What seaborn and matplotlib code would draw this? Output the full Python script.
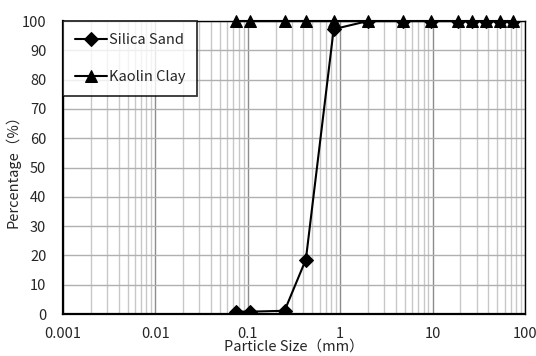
import numpy as np
import pandas as pd
import matplotlib
matplotlib.use("Agg")
import matplotlib.pyplot as plt
import seaborn as sns
from matplotlib.ticker import LogLocator, FixedLocator, FixedFormatter, NullFormatter

sieve_mm = [0.075, 0.106, 0.25, 0.425, 0.85, 2, 4.75, 9.5, 19, 26.5, 37.5, 53, 75]
silica_pct = [0.8, 0.8, 1.1, 18.6, 97.2, 100, 100, 100, 100, 100, 100, 100, 100]
kaolin_pct = [100, 100, 100, 100, 100, 100, 100, 100, 100, 100, 100, 100, 100]
x_ticks = [0.001, 0.01, 0.1, 1, 10, 100]
x_tick_labels = ["0.001", "0.01", "0.1", "1", "10", "100"]
y_ticks = [0, 10, 20, 30, 40, 50, 60, 70, 80, 90, 100]

sns.set_style("white")
plt.rcParams['font.family'] = ['Noto Sans CJK JP', 'DejaVu Sans']

FS = 10.5

fig = plt.figure(figsize=(5.36, 3.56), dpi=100)
ax = fig.add_axes([63/536, 1 - 314/356, (525-63)/536, (314-21)/356])

df_s = pd.DataFrame({"x": sieve_mm, "y": silica_pct})
df_k = pd.DataFrame({"x": sieve_mm, "y": kaolin_pct})

sns.lineplot(data=df_s, x="x", y="y", ax=ax, color="black", lw=1.5, marker="D",
             markersize=7, markeredgecolor="black", label="Silica Sand",
             sort=False, estimator=None, zorder=4)
sns.lineplot(data=df_k, x="x", y="y", ax=ax, color="black", lw=1.5, marker="^",
             markersize=8.5, markeredgecolor="black", label="Kaolin Clay",
             sort=False, estimator=None, zorder=5, clip_on=False)

ax.set_xscale("log")
ax.set_xlim(0.001, 100)
ax.set_ylim(0, 100)
ax.xaxis.set_major_locator(FixedLocator(x_ticks))
ax.xaxis.set_major_formatter(FixedFormatter(x_tick_labels))
ax.xaxis.set_minor_locator(LogLocator(base=10, subs=np.arange(2, 10)))
ax.xaxis.set_minor_formatter(NullFormatter())
ax.set_yticks(y_ticks)

ax.grid(which="major", axis="x", color="#8c8c8c", lw=1.0)
ax.grid(which="minor", axis="x", color="#c8c8c8", lw=1.0)
ax.grid(which="major", axis="y", color="#b0b0b0", lw=1.0)
ax.set_axisbelow(True)

ax.tick_params(axis="y", which="major", direction="in", length=4, width=1,
               color="#404040", labelsize=FS, pad=12)
ax.tick_params(axis="x", which="both", length=0, labelsize=FS, pad=9)

for side in ["left", "bottom"]:
    ax.spines[side].set_color("black")
    ax.spines[side].set_linewidth(1.6)
for side in ["right", "top"]:
    ax.spines[side].set_color("black")
    ax.spines[side].set_linewidth(1.0)
    ax.spines[side].set_visible(True)

ax.set_xlabel("Particle Size（mm）", fontsize=FS, labelpad=-1)
ax.set_ylabel("Percentage（%）", fontsize=FS, labelpad=1)

leg = ax.legend(loc="upper left", bbox_to_anchor=(0, 1.0), borderaxespad=0,
                frameon=True, fancybox=False, edgecolor="black",
                fontsize=FS, labelspacing=1.6, handlelength=2.2,
                handletextpad=0.15, borderpad=0.8)
leg.get_frame().set_linewidth(1.3)
leg.set_zorder(10)

fig.savefig("out.png", dpi=100)
